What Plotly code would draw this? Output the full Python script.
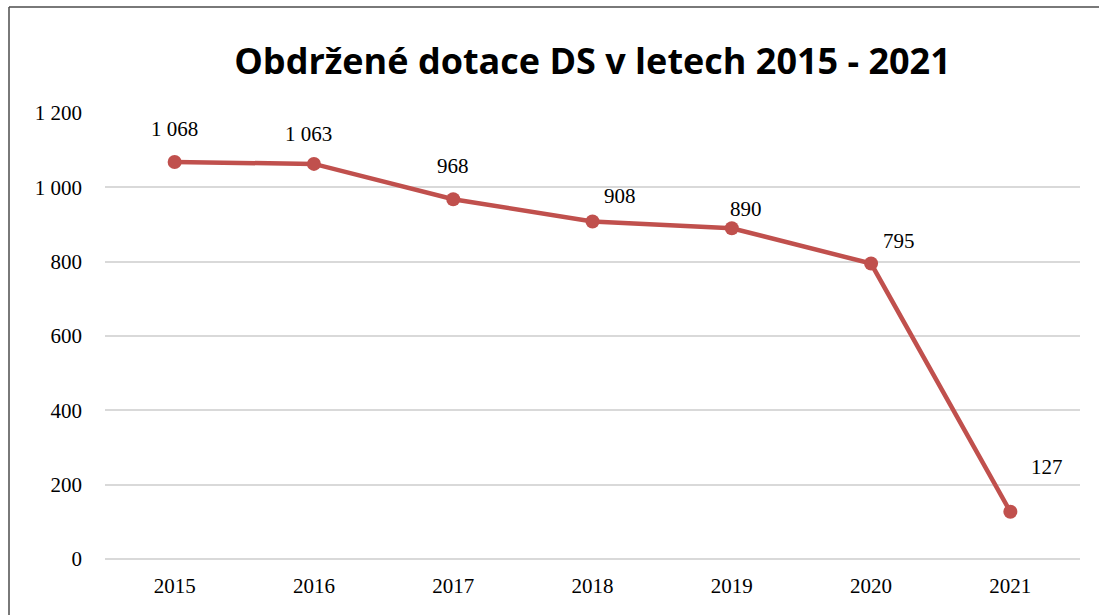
import plotly.graph_objects as go

years = ["2015", "2016", "2017", "2018", "2019", "2020", "2021"]
values = [1068, 1063, 968, 908, 890, 795, 127]
label_dx = [0, -5, 0, 27, 14, 28, 37]
label_dy = [33, 30, 33, 26, 19, 23, 45]

W, H = 1099, 615
ML, MR, MT, MB = 105, 19, 113, 56
PW, PH = W - ML - MR, H - MT - MB

def fmt(v):
    return f"{v:,}".replace(",", " ")

fig = go.Figure()
fig.add_trace(go.Scatter(
    x=years, y=values, mode="lines+markers",
    line=dict(color="#C0504D", width=4.5),
    marker=dict(color="#C0504D", size=14),
    hoverinfo="skip", showlegend=False,
))

for i, (v, dx, dy) in enumerate(zip(values, label_dx, label_dy)):
    fig.add_annotation(x=i, y=v, xref="x", yref="y", text=fmt(v), showarrow=False,
                       xshift=dx, yshift=dy,
                       font=dict(family="Liberation Serif", size=21, color="#000000"))

# chart border (top and left edges visible)
def px_to_paper_x(px):
    return (px - ML) / PW

def px_to_paper_y(py):
    return (H - MB - py) / PH

fig.add_shape(type="line", xref="paper", yref="paper",
              x0=px_to_paper_x(9), x1=px_to_paper_x(1100), y0=px_to_paper_y(7), y1=px_to_paper_y(7),
              line=dict(color="#4D4D4D", width=1.5))
fig.add_shape(type="line", xref="paper", yref="paper",
              x0=px_to_paper_x(9), x1=px_to_paper_x(9), y0=px_to_paper_y(7), y1=px_to_paper_y(620),
              line=dict(color="#4D4D4D", width=1.5))

fig.update_layout(
    width=W, height=H,
    margin=dict(l=ML, r=MR, t=MT, b=MB),
    paper_bgcolor="white", plot_bgcolor="white",
    separators=", ",
    title=dict(text="<b>Obdržené dotace DS v letech 2015 - 2021</b>",
               x=0.5, xref="paper", xanchor="center", y=1 - 61 / H, yanchor="middle",
               font=dict(family="Open Sans", size=36, color="#000000")),
    xaxis=dict(type="category", range=[-0.5, 6.5], showgrid=False, showline=False,
               ticks="", zeroline=False,
               tickfont=dict(family="Liberation Serif", size=21, color="#000000"),
               ticklabelstandoff=12),
    yaxis=dict(range=[0, 1200], dtick=200, tickformat=",d", showgrid=True,
               gridcolor="#D9D9D9", gridwidth=1.5, zeroline=True, zerolinecolor="#D9D9D9",
               zerolinewidth=1.5, showline=False, ticks="",
               tickfont=dict(family="Liberation Serif", size=21, color="#000000"),
               ticklabelstandoff=22),
)

fig.write_html("out.html", config={"displayModeBar": False},
               post_script="document.body.style.margin='0';")
